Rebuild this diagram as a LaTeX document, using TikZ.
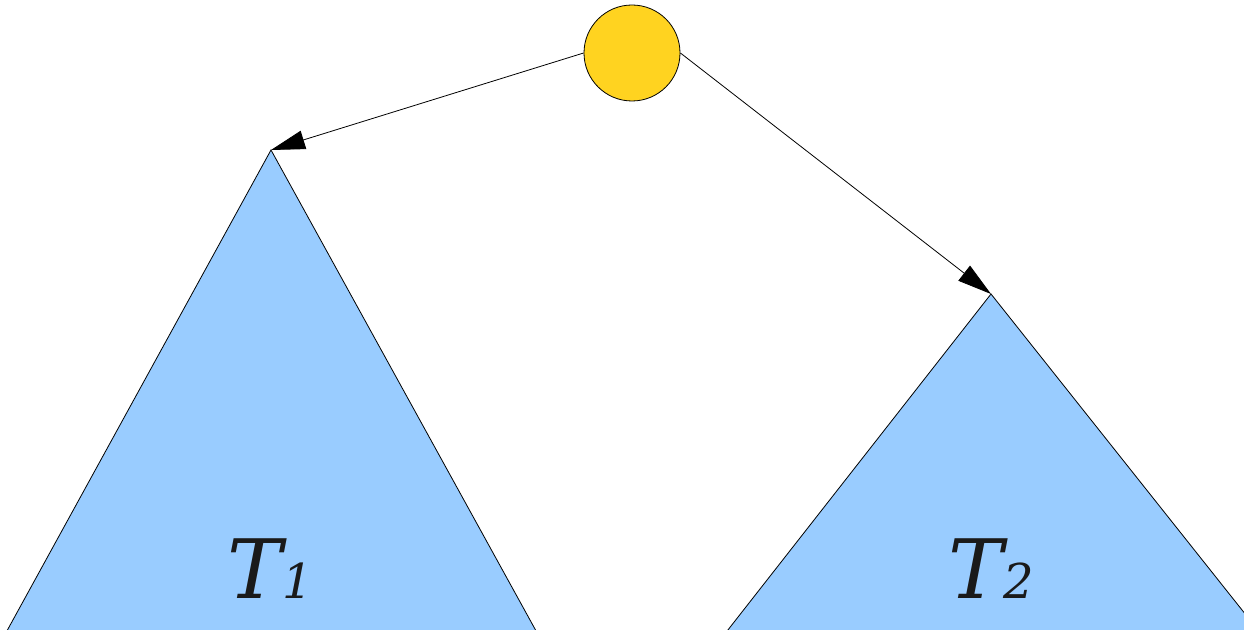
\documentclass[tikz,border=0pt]{standalone}
\usepackage{fontspec}
\setmainfont{DejaVu Serif}
\usepackage{tikz}
\usetikzlibrary{arrows.meta}
\definecolor{treeblue}{RGB}{153,204,255}
\definecolor{rootyellow}{RGB}{255,211,32}
\definecolor{labelgray}{RGB}{26,26,26}

\begin{document}
\begin{tikzpicture}[x=1pt, y=1pt,
  tree/.style={fill=treeblue, draw=black, line width=0.8pt},
  root/.style={circle, draw=black, fill=rootyellow, line width=0.8pt, minimum size=96pt, inner sep=0pt},
  arr/.style={-{Triangle[length=34pt,width=19pt]}, line width=0.8pt},
  lbl/.style={anchor=base, text=labelgray, inner sep=0pt, font=\itshape}
]
  \useasboundingbox (0,0) rectangle (1244,629);
  \clip (0,0) rectangle (1244,629);

  % subtrees
  \coordinate (apexL) at (271,479);
  \coordinate (apexR) at (991,335);
  \draw[tree] (apexL) -- (-3,-20) -- (546,-20) -- cycle;
  \draw[tree] (apexR) -- (713,-20) -- (1273,-20) -- cycle;

  \node[lbl] (t1) at (270,31) {{\fontsize{82}{82}\selectfont T}{\fontsize{48}{48}\selectfont 1}};
  \node[lbl] (t2) at (991,31) {{\fontsize{82}{82}\selectfont T}{\fontsize{48}{48}\selectfont 2}};

  % root
  \node[root] (top) at (632,576) {};

  \draw[arr] (top.west) -- (apexL);
  \draw[arr] (top.east) -- (apexR);
\end{tikzpicture}
\end{document}
